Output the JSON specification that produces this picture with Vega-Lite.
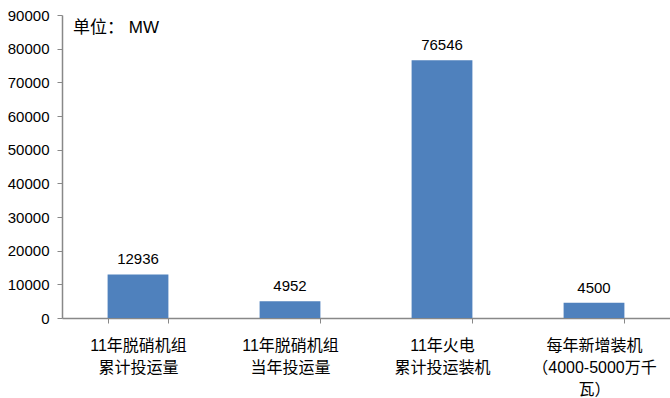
{
  "$schema": "https://vega.github.io/schema/vega-lite/v6.json",
  "width": 608,
  "height": 303,
  "autosize": {"type": "none"},
  "padding": {"left": 62, "top": 15, "right": 0, "bottom": 80},
  "background": "white",
  "config": {
    "view": {"stroke": null},
    "font": "Liberation Sans, Noto Sans CJK SC",
    "scale": {"bandPaddingInner": 0.6, "bandPaddingOuter": 0.3}
  },
  "title": {
    "text": "单位： MW",
    "anchor": "start",
    "frame": "group",
    "orient": "top",
    "offset": -29,
    "dx": 11,
    "fontSize": 17,
    "fontWeight": "normal",
    "color": "#000000",
    "font": "Liberation Sans, Noto Sans CJK SC"
  },
  "data": {
    "values": [
      {"category": "11年脱硝机组\n累计投运量", "value": 12936},
      {"category": "11年脱硝机组\n当年投运量", "value": 4952},
      {"category": "11年火电\n累计投运装机", "value": 76546},
      {"category": "每年新增装机\n（4000-5000万千\n瓦）", "value": 4500}
    ]
  },
  "encoding": {
    "x": {
      "field": "category",
      "type": "nominal",
      "sort": null,
      "axis": {
        "title": null,
        "labelAngle": 0,
        "labelExpr": "split(datum.label, '\\n')",
        "labelFontSize": 16,
        "labelColor": "#000000",
        "labelPadding": 22,
        "labelLineHeight": 22,
        "labelBaseline": "middle",
        "tickBand": "extent",
        "tickSize": 5,
        "tickColor": "#888888",
        "domainColor": "#888888",
        "domainWidth": 1.5,
        "labelFont": "Liberation Sans, Noto Sans CJK SC"
      }
    },
    "y": {
      "field": "value",
      "type": "quantitative",
      "scale": {"domain": [0, 90000], "nice": false},
      "axis": {
        "title": null,
        "values": [0, 10000, 20000, 30000, 40000, 50000, 60000, 70000, 80000, 90000],
        "grid": false,
        "format": "d",
        "labelFontSize": 15,
        "labelColor": "#000000",
        "labelPadding": 8,
        "tickSize": 5,
        "tickColor": "#888888",
        "domainColor": "#888888",
        "domainWidth": 1.5
      }
    }
  },
  "layer": [
    {"mark": {"type": "bar", "color": "#4F81BD"}},
    {
      "mark": {"type": "text", "dy": -10, "fontSize": 15, "color": "#000000", "baseline": "alphabetic"},
      "encoding": {"text": {"field": "value", "type": "quantitative", "format": "d"}}
    }
  ]
}
